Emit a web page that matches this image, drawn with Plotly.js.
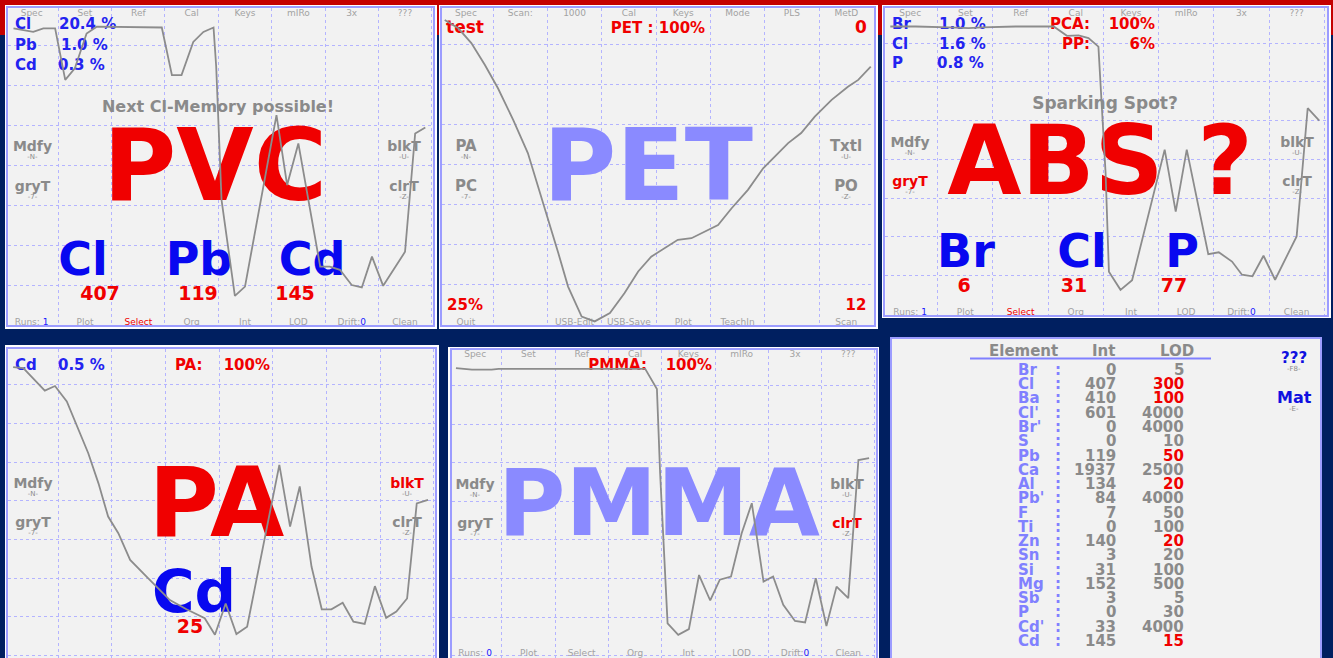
<!DOCTYPE html>
<html><head><meta charset="utf-8">
<script src="https://cdn.plot.ly/plotly-3.0.1.min.js"></script>
<style>html,body{margin:0;padding:0;background:#001f60;overflow:hidden}#chart{width:1333px;height:658px}</style>
</head><body><div id="chart"></div>
<script>
// ---- curve data (x: grid columns 0-8, y: grid rows 0-8) ----
const pvcX = [0.16,0.53,0.72,0.94,1.13,1.31,1.53,1.72,2.94,3.13,3.31,3.53,3.72,3.91,3.96,4.06,4.31,4.50,5.09,5.29,5.50,5.91,6.09,6.28,6.50,6.69,6.88,7.09,7.50,7.69,7.88];
const pvcY = [7.42,7.33,7.42,7.42,6.13,6.42,7.29,7.46,7.44,6.25,6.25,7.08,7.33,7.44,6.46,3.13,0.73,0.96,5.25,3.50,4.54,1.46,1.46,1.38,1.00,0.94,1.71,0.98,1.83,4.79,4.94];
const petX = [0.11,0.36,0.60,0.85,1.09,1.37,1.64,1.83,2.01,2.20,2.38,2.63,2.87,3.15,3.42,3.67,3.91,4.16,4.40,4.65,4.90,5.14,5.39,5.69,5.97,6.18,6.43,6.67,6.92,7.23,7.53,7.72,7.95];
const petY = [7.61,7.40,7.03,6.48,5.90,5.11,4.28,3.44,2.61,1.78,0.94,0.19,0.07,0.28,0.78,1.32,1.69,1.90,2.11,2.15,2.32,2.48,2.90,3.36,3.90,4.19,4.53,4.78,5.19,5.61,5.94,6.11,6.44];
const absX = [0.14,0.60,1.20,1.56,1.80,2.41,3.10,3.34,3.55,3.73,3.91,3.97,4.04,4.10,4.31,4.52,5.11,5.31,5.51,5.90,6.09,6.33,6.51,6.70,6.90,7.11,7.50,7.70,7.91];
const absY = [7.43,7.43,7.41,7.39,7.41,7.43,7.43,7.19,7.20,7.13,6.91,5.28,3.64,1.10,0.63,0.88,4.25,2.65,4.25,1.55,1.60,1.36,1.02,0.98,1.51,0.89,2.01,5.32,5.00];
const paX = [0.16,0.35,0.75,0.94,1.16,1.34,1.56,1.75,1.93,2.12,2.34,2.65,3.08,3.39,3.73,3.92,4.12,4.32,4.52,5.12,5.32,5.50,5.72,5.91,6.09,6.30,6.50,6.71,6.90,7.11,7.30,7.50,7.68,7.89];
const paY = [7.46,7.43,6.85,6.97,6.57,5.96,5.23,4.45,3.59,3.16,2.47,2.03,1.43,1.19,0.96,0.53,1.34,0.55,0.74,4.93,3.33,4.37,2.29,1.19,1.19,1.36,0.87,0.81,1.79,0.97,1.13,1.47,3.93,4.02];
const pmmaX = [0.14,0.44,0.81,0.94,3.69,3.91,3.97,4.03,4.11,4.31,4.51,4.70,4.91,5.09,5.30,5.50,5.69,5.91,6.09,6.28,6.50,6.69,6.89,7.09,7.28,7.50,7.69,7.89];
const pmmaY = [7.45,7.41,7.41,7.43,7.43,6.91,4.73,3.00,0.84,0.54,0.69,2.09,1.43,1.97,2.05,3.17,3.95,1.92,2.05,1.32,0.90,0.86,2.01,0.77,1.79,1.49,5.07,5.12];

// ---- table data ----
const tableElements = ["Br","Cl","Ba","Cl'","Br'","S","Pb","Ca","Al","Pb'","F","Ti","Zn","Sn","Si","Mg","Sb","P","Cd'","Cd"];
const tableInt = [0,407,410,601,0,0,119,1937,134,84,7,0,140,3,31,152,3,0,33,145];
const tableLOD = [5,300,100,4000,4000,10,50,2500,20,4000,50,100,20,20,100,500,5,30,4000,15];

// ---- menu labels ----
const menuMain = ['Spec','Set','Ref','Cal','Keys','mIRo','3x','???'];
const menuPet = ['Spec','Scan:','1000','Cal','Keys','Mode','PLS','MetD'];
const menuPetBottom = ['Quit','','USB-Edit','USB-Save','Plot','TeachIn','','Scan'];

const W = 1333, H = 658;
const SANS = 'DejaVu Sans';
const GREY = '#8a8a8a', RED = '#f00000', BLUE = '#0808f0', BLUE2 = '#2323f0', LILAC = '#8a8aff', LGREY = '#a2a2a2';
const B = s => "<span style='color:#2020ff'>" + s + "</span>";
const R = s => "<span style='color:#f00000'>" + s + "</span>";

const P = {
  1:{box:[8.3,433.3,8.3,325], xr:[0.0625,8.03], yr:[0,7.92]},
  2:{box:[442,874,8.3,325], xr:[0.06,8.01], yr:[-0.02,7.9]},
  3:{box:[885.3,1327,8.3,315], xr:[0.05,8.05], yr:[-0.02,7.9]},
  4:{box:[8.3,435,349.3,658], xr:[0.07,8.02], yr:[-0.07,7.92]},
  5:{box:[451.7,876,350,658], xr:[0.06,8.02], yr:[-0.06,7.92]},
  6:{box:[892,1320,339,658], xr:[892,1320], yr:[20.2,-2.17]}
};
const sfx = p => p === 1 ? '' : String(p);
function ax(p, px){const b=P[p].box,r=P[p].xr;return r[0]+(px-b[0])/(b[1]-b[0])*(r[1]-r[0]);}
function ay(p, py){const b=P[p].box,r=P[p].yr;return r[1]-(py-b[2])/(b[3]-b[2])*(r[1]-r[0]);}

const textTraces = [];
function txt(p, px, py, text, size, color, o){
  o = o || {};
  textTraces.push({type:'scatter', mode:'text', x:[o.ax !== undefined ? o.ax : ax(p,px)], y:[ay(p,py + 0.1*size)], text:[text],
    textposition:o.pos || 'middle center',
    textfont:{family:SANS, size:size, color:color, weight:o.w === undefined ? 700 : o.w},
    xaxis:'x'+sfx(p), yaxis:'y'+sfx(p), cliponaxis:false, showlegend:false, hoverinfo:'skip'});
}
const L = 'middle right', Rt = 'middle left';
function menu(p, py, labels){
  labels.forEach((l,k)=>{ if(l) txt(p, 0, py, l, 9, LGREY, {ax:k+0.5, w:400}); });
}
function side(p, px, py, main, sub, color){
  txt(p, px, py, main, 14, color || GREY);
  txt(p, px, py+11, sub, 7, GREY, {w:400});
}

// Panel 1 PVC
menu(1, 13, menuMain);
menu(1, 321.7, ['Runs: '+B('1'),'Plot',R('Select'),'Org','Int','LOD','Drift:'+B('0'),'Clean']);
txt(1,15,24,'Cl',15,BLUE2,{pos:L}); txt(1,59,24,'20.4 %',15,BLUE2,{pos:L});
txt(1,15,45,'Pb',15,BLUE2,{pos:L}); txt(1,61,45,'1.0 %',15,BLUE2,{pos:L});
txt(1,15,65,'Cd',15,BLUE2,{pos:L}); txt(1,58,65,'0.3 %',15,BLUE2,{pos:L});
txt(1,218,106,'Next Cl-Memory possible!',16,GREY);
txt(1,215,165,'PVC',100,RED);
side(1,32.5,146,'Mdfy','-N-'); side(1,32.5,186,'gryT','-7-');
side(1,404,146,'blkT','-U-'); side(1,404,186,'clrT','-Z-');
txt(1,83,259,'Cl',46,BLUE); txt(1,199,259,'Pb',46,BLUE); txt(1,312,259,'Cd',46,BLUE);
txt(1,100,293,'407',19,RED); txt(1,198,293,'119',19,RED); txt(1,295,293,'145',19,RED);

// Panel 2 PET
menu(2, 13, menuPet);
menu(2, 321.7, menuPetBottom);
txt(2,446,27,'test',17,RED,{pos:L});
txt(2,658,28,'PET : 100%',15,RED);
txt(2,861,27,'0',17,RED);
txt(2,648,165,'PET',100,LILAC);
txt(2,466,146,'PA',15,GREY); txt(2,466,157,'-N-',7,GREY,{w:400});
txt(2,466,186,'PC',15,GREY); txt(2,466,197,'-7-',7,GREY,{w:400});
txt(2,846,146,'Txtl',15,GREY); txt(2,846,157,'-U-',7,GREY,{w:400});
txt(2,846,186,'PO',15,GREY); txt(2,846,197,'-Z-',7,GREY,{w:400});
txt(2,465,305,'25%',15,RED); txt(2,856,305,'12',15,RED);

// Panel 3 ABS
menu(3, 12.7, menuMain);
menu(3, 311.7, ['Runs: '+B('1'),'Plot',R('Select'),'Org','Int','LOD','Drift:'+B('0'),'Clean']);
txt(3,892,24,'Br',15,BLUE2,{pos:L}); txt(3,939,24,'1.0 %',15,BLUE2,{pos:L});
txt(3,892,43.5,'Cl',15,BLUE2,{pos:L}); txt(3,939,43.5,'1.6 %',15,BLUE2,{pos:L});
txt(3,892,63,'P',15,BLUE2,{pos:L}); txt(3,937,63,'0.8 %',15,BLUE2,{pos:L});
txt(3,1090,24,'PCA:',15,RED,{pos:Rt}); txt(3,1155,24,'100%',15,RED,{pos:Rt});
txt(3,1090,43.5,'PP:',15,RED,{pos:Rt}); txt(3,1155,43.5,'6%',15,RED,{pos:Rt});
txt(3,1105,103,'Sparking Spot?',17,GREY);
txt(3,1100,160.5,'ABS ?',96,RED);
side(3,910,141.7,'Mdfy','-N-'); side(3,910,181,'gryT','-7-',RED);
side(3,1297,141.7,'blkT','-U-'); side(3,1297,181,'clrT','-Z-');
txt(3,966,251,'Br',46,BLUE); txt(3,1082,251,'Cl',46,BLUE); txt(3,1182,251,'P',46,BLUE);
txt(3,964,285,'6',19,RED); txt(3,1074,285,'31',19,RED); txt(3,1174,285,'77',19,RED);

// Panel 4 PA
txt(4,15,365,'Cd',15,BLUE2,{pos:L}); txt(4,58,365,'0.5 %',15,BLUE2,{pos:L});
txt(4,175,365,'PA:',15,RED,{pos:L}); txt(4,270,365,'100%',15,RED,{pos:Rt});
txt(4,216.5,502,'PA',96,RED);
txt(4,194,592,'Cd',58,BLUE);
txt(4,190,626,'25',19,RED);
side(4,33,483,'Mdfy','-N-'); side(4,33,522,'gryT','-7-');
side(4,407,483,'blkT','-U-',RED); side(4,407,522,'clrT','-Z-');

// Panel 5 PMMA
menu(5, 354.3, menuMain);
menu(5, 653.3, ['Runs: '+B('0'),'Plot','Select','Org','Int','LOD','Drift:'+B('0'),'Clean']);
txt(5,647,365,'PMMA:',15,RED,{pos:Rt}); txt(5,712,365,'100%',15,RED,{pos:Rt});
txt(5,659,502.5,'PMMA',92,LILAC);
side(5,475,484,'Mdfy','-N-'); side(5,475,523,'gryT','-7-');
side(5,847,484,'blkT','-U-'); side(5,847,523,'clrT','-Z-',RED);

// curves
const curveStyle = {color:'#8c8c8c', width:1.8};
const curves = [[pvcX,pvcY,1],[petX,petY,2],[absX,absY,3],[paX,paY,4],[pmmaX,pmmaY,5]].map(c=>({
  type:'scatter', mode:'lines', x:c[0], y:c[1], line:curveStyle, xaxis:'x'+sfx(c[2]), yaxis:'y'+sfx(c[2]),
  showlegend:false, hoverinfo:'skip'}));

// table annotations (panel 6)
const ann = [];
function tA(x, y, text, size, color, xanchor, w){
  ann.push({xref:'x6', yref:'y6', x:x, y:y, text:text, showarrow:false, xanchor:xanchor||'center', yanchor:'middle',
    font:{family:SANS, size:size, color:color, weight:w===undefined?700:w}});
}
tA(1023,-1.33,'Element',15,GREY); tA(1103,-1.33,'Int',15,GREY); tA(1177,-1.33,'LOD',15,GREY);
tableElements.forEach((el,i)=>{
  tA(1016,i,el,15,'#8080ff','left');
  tA(1058,i,':',15,'#8080ff');
  tA(1118,i,String(tableInt[i]),15,GREY,'right');
  tA(1186,i,String(tableLOD[i]),15,tableInt[i] > tableLOD[i] ? RED : GREY,'right');
});
tA(1294,-0.86,'???',15,'#1010e0'); tA(1294,-0.07,'-F8-',7,GREY,'center',400);
tA(1294,1.94,'Mat',16,'#1010e0'); tA(1294,2.73,'-E-',7,GREY,'center',400);

// shapes
const shapes = [];
function rect(x0,x1,y0,y1,fill){shapes.push({type:'rect',xref:'paper',yref:'paper',x0:x0/W,x1:x1/W,y0:1-y1/H,y1:1-y0/H,fillcolor:fill,line:{width:0},layer:'below'});}
rect(0,W,0,35,'#c40000');
rect(5,437,5,329,'#ffffff'); rect(439,878,5,329,'#ffffff'); rect(882,1331,5,318,'#ffffff');
rect(5,439,345,658,'#ffffff'); rect(448,879,347,658,'#ffffff'); rect(890,1322,337,658,'#ffffff');
for(let p=1;p<=6;p++){const b=P[p].box; rect(b[0],b[1],b[2],b[3],'#f2f2f2');}
shapes.push({type:'line',xref:'paper',yref:'paper',x0:970/W,x1:1211/W,y0:1-358.5/H,y1:1-358.5/H,line:{color:'#8080ff',width:2},layer:'above'});

const layout = {width:W, height:H, margin:{l:0,r:0,t:0,b:0}, paper_bgcolor:'#001f60', plot_bgcolor:'rgba(0,0,0,0)',
  showlegend:false, shapes:shapes, annotations:ann};
for(let p=1;p<=6;p++){
  const s=sfx(p), b=P[p].box;
  const common = {showticklabels:false, ticks:'', zeroline:false, showline:true, mirror:true, linecolor:'#9c9cff', linewidth:2,
    showgrid:p<6, gridcolor:'#b4b4ff', griddash:'dot', gridwidth:1, tick0:0, dtick:1, fixedrange:true};
  layout['xaxis'+s] = Object.assign({domain:[b[0]/W,b[1]/W], range:P[p].xr, anchor:'y'+s}, common);
  layout['yaxis'+s] = Object.assign({domain:[Math.max(0,1-b[3]/H),1-b[2]/H], range:P[p].yr, anchor:'x'+s}, common);
}

Plotly.newPlot('chart', textTraces.concat(curves), layout, {staticPlot:true, displayModeBar:false});
</script>
</body></html>
